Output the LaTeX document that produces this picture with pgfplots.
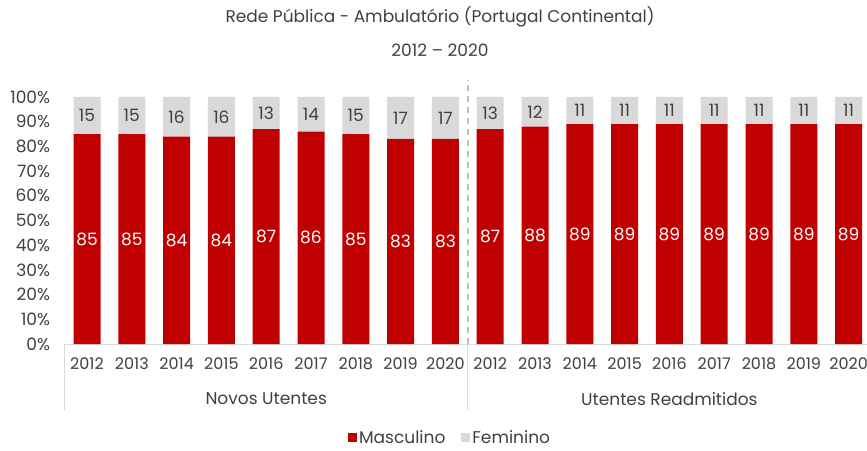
\documentclass[border=0pt]{standalone}
\usepackage{pgfplots}
\pgfplotsset{compat=1.18}
\usepackage{pgfplotstable}
\usepackage{fontspec}
\setmainfont{Poppins}
\definecolor{cred}{HTML}{C00000}
\definecolor{cgrey}{HTML}{D9D9D9}
\definecolor{ctext}{HTML}{404040}
\definecolor{cline}{HTML}{BFBFBF}
\newcommand{\fs}{\fontsize{17}{19}\selectfont}
\newcommand{\fx}{\fontsize{16}{18}\selectfont}

\pgfplotstableread{
x m f
0 85 15
1 85 15
2 84 16
3 84 16
4 87 13
5 86 14
6 85 15
7 83 17
8 83 17
9 87 13
10 88 12
11 89 11
12 89 11
13 89 11
14 89 11
15 89 11
16 89 11
17 89 11
}\data

\begin{document}
\begin{tikzpicture}
\path[use as bounding box] (0,0) rectangle (867pt,450pt);
\begin{axis}[
  at={(64.6pt,106pt)}, anchor=south west,
  scale only axis, width=806.4pt, height=247pt,
  xmin=-0.5, xmax=17.5, ymin=0, ymax=100,
  clip=false,
  axis lines*=left,
  x axis line style={draw=cgrey, line width=0.8pt},
  y axis line style={draw=none},
  major tick length=0pt,
  ytick={0,10,...,100},
  yticklabel={\pgfmathprintnumber{\tick}\%},
  yticklabel style={xshift=-11pt, font=\fs},
  xtick={0,...,17},
  xticklabels={2012,2013,2014,2015,2016,2017,2018,2019,2020,2012,2013,2014,2015,2016,2017,2018,2019,2020},
  xticklabel style={yshift=-10pt, font=\fx},
  tick label style={text=ctext},
  /pgf/number format/assume math mode=true,
  ybar stacked, bar width=27pt,
  legend style={at={(0.478,-0.38)}, anchor=center, draw=none, legend columns=2,
    font=\fs, text=ctext,
    /tikz/every even column/.append style={column sep=14pt}},
  legend image code/.code={\fill[#1] (0pt,-4.5pt) rectangle (9pt,4.5pt);},
]
\addplot[fill=cred, draw=none] table[x=x, y=m] {\data};
\addlegendentry{Masculino}
\addplot[fill=cgrey, draw=none] table[x=x, y=f] {\data};
\addlegendentry{Feminino}
\end{axis}
\begin{axis}[
  at={(64.6pt,106pt)}, anchor=south west,
  scale only axis, width=806.4pt, height=247pt,
  xmin=-0.5, xmax=17.5, ymin=0, ymax=100,
  clip=false, hide axis,
]
\addplot[only marks, mark=none, nodes near coords, point meta=explicit symbolic,
  every node near coord/.style={anchor=center, text=white, font=\fs}]
  table[x=x, y expr=\thisrow{m}/2, meta=m] {\data};
\addplot[only marks, mark=none, nodes near coords, point meta=explicit symbolic,
  every node near coord/.style={anchor=center, text=ctext, font=\fs}]
  table[x=x, y expr=\thisrow{m}+\thisrow{f}/2, meta=f] {\data};
\draw[cline, line width=1.6pt, dash pattern=on 6pt off 5pt] (axis cs:8.5,0) -- (axis cs:8.5,107);
\draw[cgrey, line width=0.8pt] (axis cs:-0.5,0) -- ([yshift=-66pt]axis cs:-0.5,0);
\draw[cgrey, line width=0.8pt] (axis cs:8.5,0) -- ([yshift=-66pt]axis cs:8.5,0);
\node[text=ctext, font=\fs] at ([yshift=-55pt]axis cs:4,0) {Novos Utentes};
\node[text=ctext, font=\fs] at ([yshift=-55pt]axis cs:13,0) {Utentes Readmitidos};
\end{axis}
\node[text=ctext, font=\fs] at (440pt,433pt) {Rede Pública - Ambulatório (Portugal Continental)};
\node[text=ctext, font=\fs] at (440pt,400pt) {2012 – 2020};
\end{tikzpicture}
\end{document}
